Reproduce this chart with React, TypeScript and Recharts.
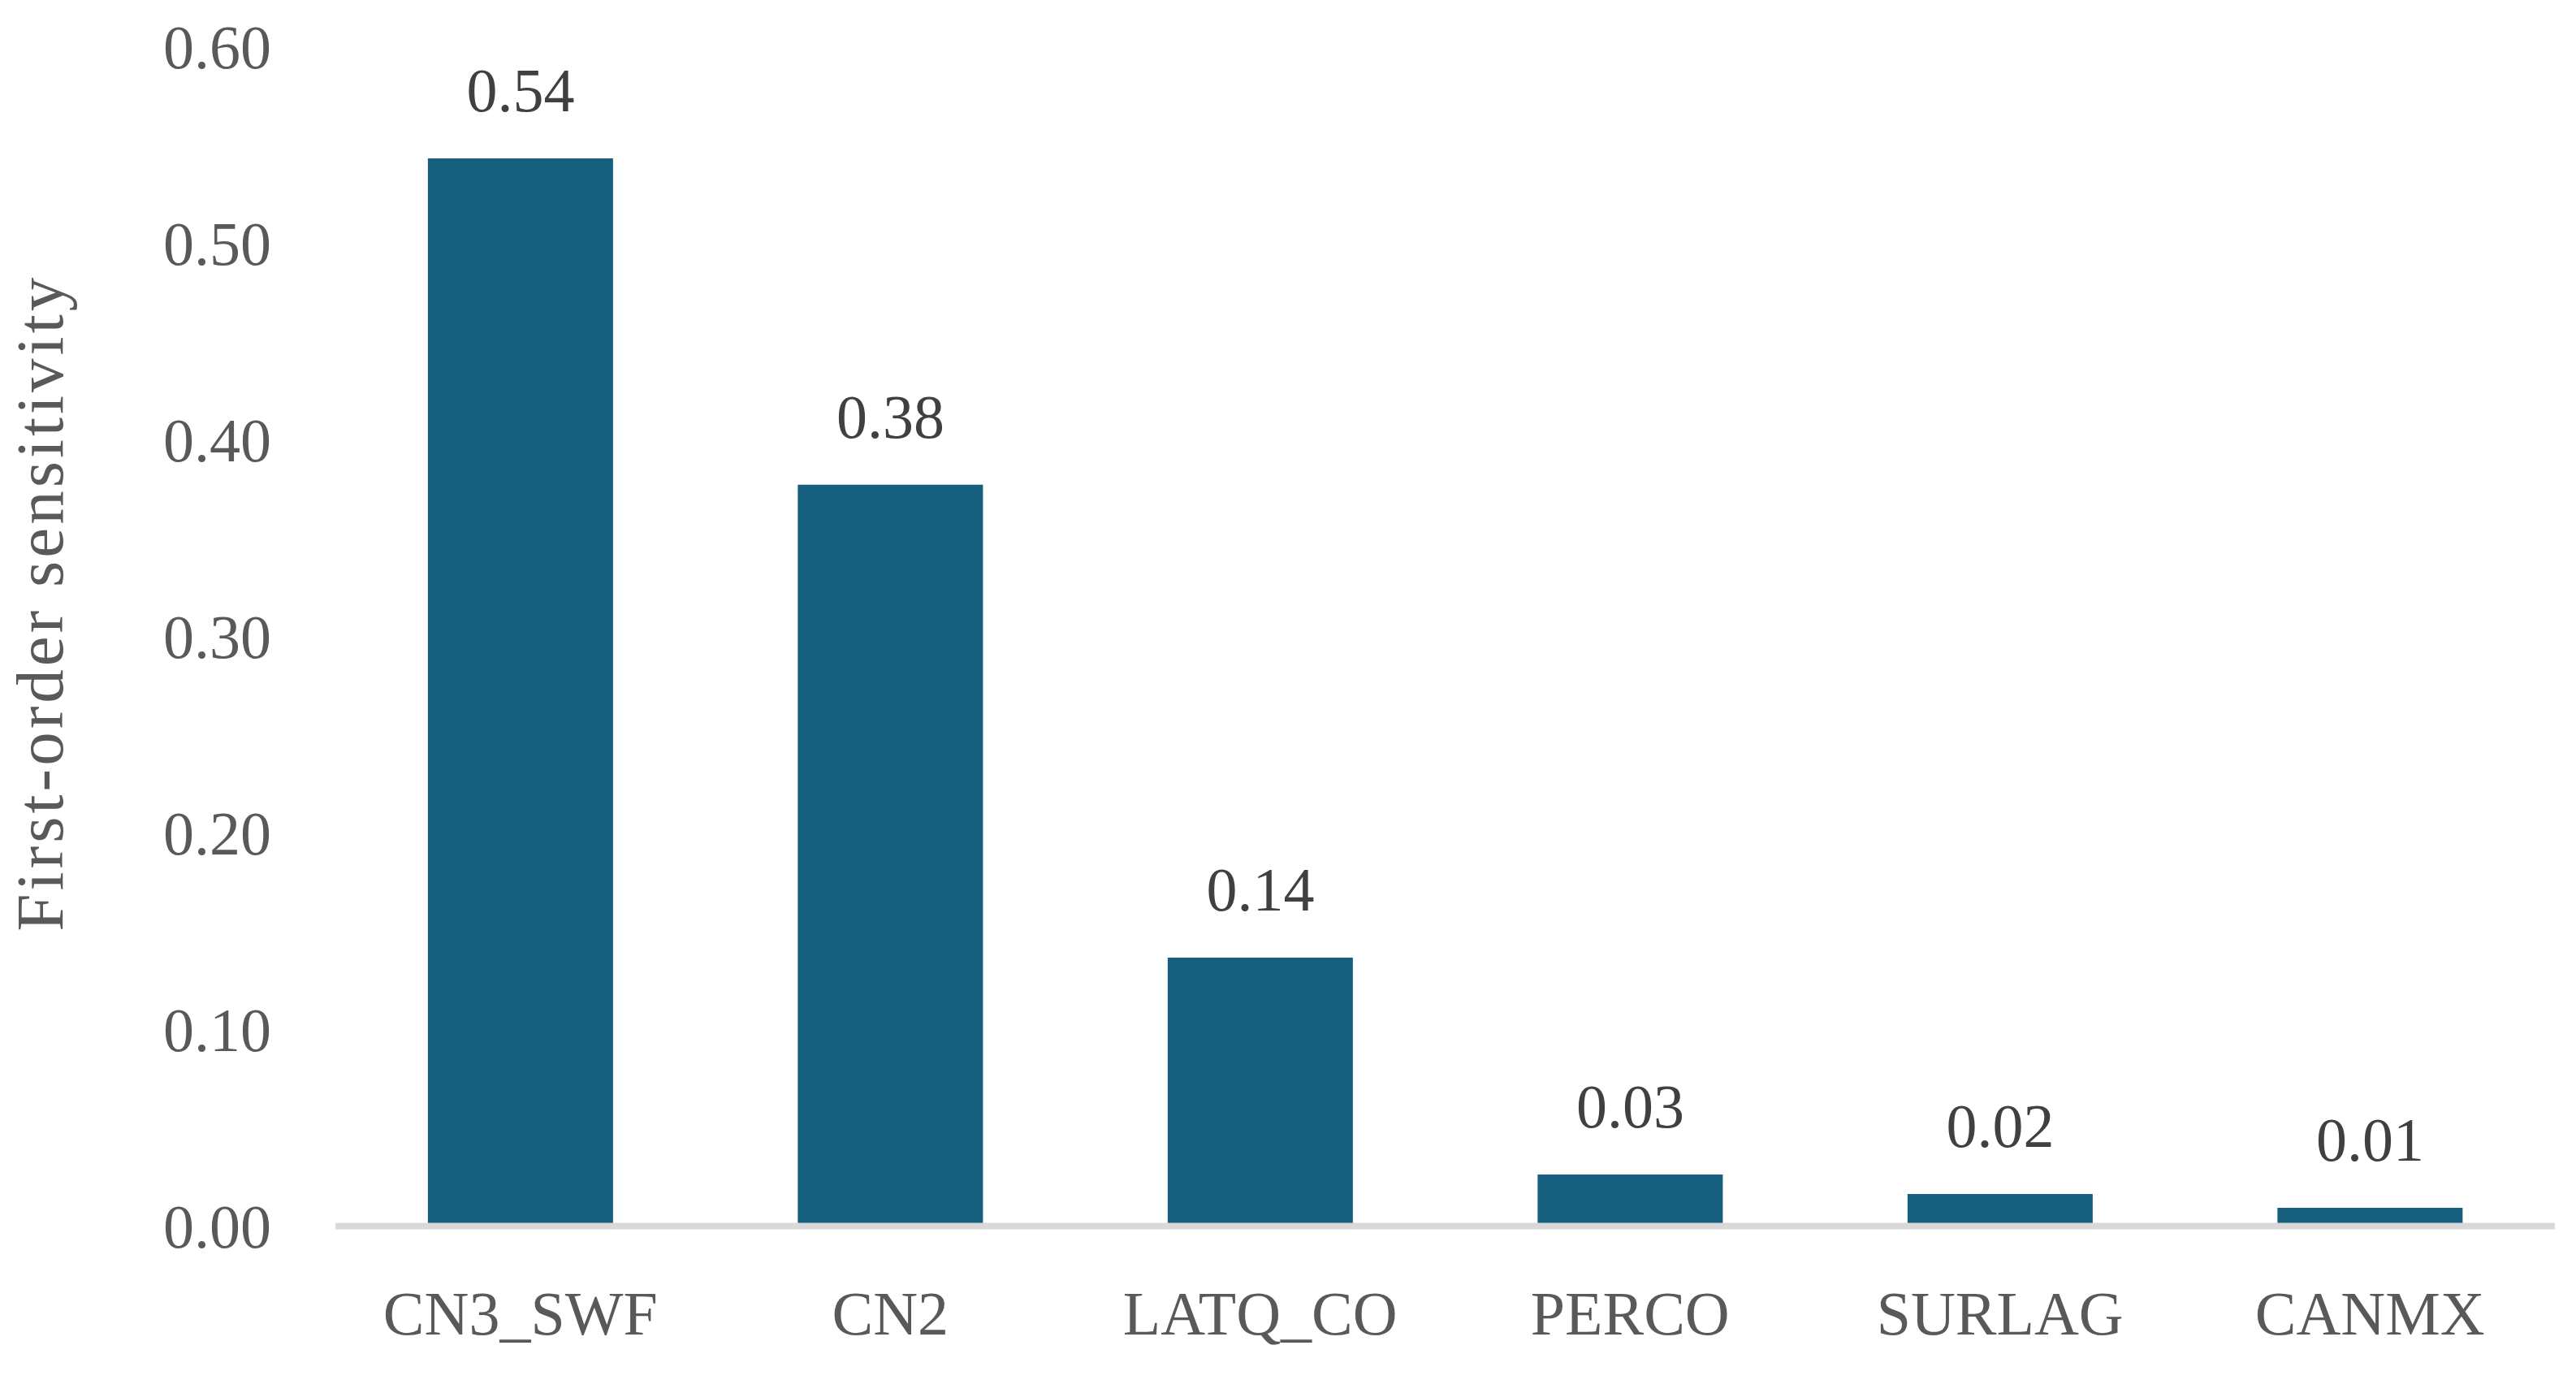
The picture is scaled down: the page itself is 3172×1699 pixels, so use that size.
import React from 'react';
import { BarChart, Bar, XAxis, YAxis, LabelList, ReferenceLine } from 'recharts';

const categories = ['CN3_SWF', 'CN2', 'LATQ_CO', 'PERCO', 'SURLAG', 'CANMX'];
const sensitivity = [0.543, 0.377, 0.1365, 0.0262, 0.0163, 0.0093];
const yTicks = [0, 0.1, 0.2, 0.3, 0.4, 0.5, 0.6];
const yLabel = 'First-order sensitivity';

const data = categories.map((name, i) => ({ name, value: sensitivity[i] }));

const FONT = '"Liberation Serif", "DejaVu Serif", serif';
const FS = 76;

const YLabel = (props: any) => {
  const vb = props.viewBox || {};
  const cx = (vb.x ?? 0) + 77;
  const cy = (vb.y ?? 0) + (vb.height ?? 0) / 2 - 41;
  return (
    <text
      x={cx}
      y={cy}
      transform={`rotate(-90, ${cx}, ${cy})`}
      textAnchor="middle"
      fill="#595959"
      fontFamily={FONT}
      fontSize={83}
      letterSpacing={4}
    >
      {yLabel}
    </text>
  );
};

export default function App() {
  return (
    <div style={{ position: 'absolute', left: 0, top: 0, background: '#fff' }}>
      <BarChart
        width={3172}
        height={1699}
        data={data}
        margin={{ top: 57, right: 26, left: 0, bottom: 89.5 }}
        barCategoryGap="25%"
      >
        <XAxis
          dataKey="name"
          axisLine={false}
          tickLine={false}
          tickSize={0}
          tickMargin={80}
          height={100}
          interval={0}
          tick={{ fill: '#595959', fontFamily: FONT, fontSize: FS }}
        />
        <YAxis
          domain={[0, 0.6]}
          ticks={yTicks}
          width={413}
          axisLine={false}
          tickLine={false}
          tickSize={0}
          tickMargin={79}
          tickFormatter={(v: number) => v.toFixed(2)}
          tick={{ fill: '#595959', fontFamily: FONT, fontSize: FS }}
          label={{ content: YLabel } as any}
        />
        <Bar dataKey="value" fill="#175F7F" isAnimationActive={false}>
          <LabelList
            dataKey="value"
            position="top"
            offset={58}
            formatter={(v: any) => Number(v).toFixed(2)}
            style={{ fill: '#404040', fontFamily: FONT, fontSize: FS }}
          />
        </Bar>
        <ReferenceLine y={0} stroke="#D9D9D9" strokeWidth={8} />
      </BarChart>
    </div>
  );
}
